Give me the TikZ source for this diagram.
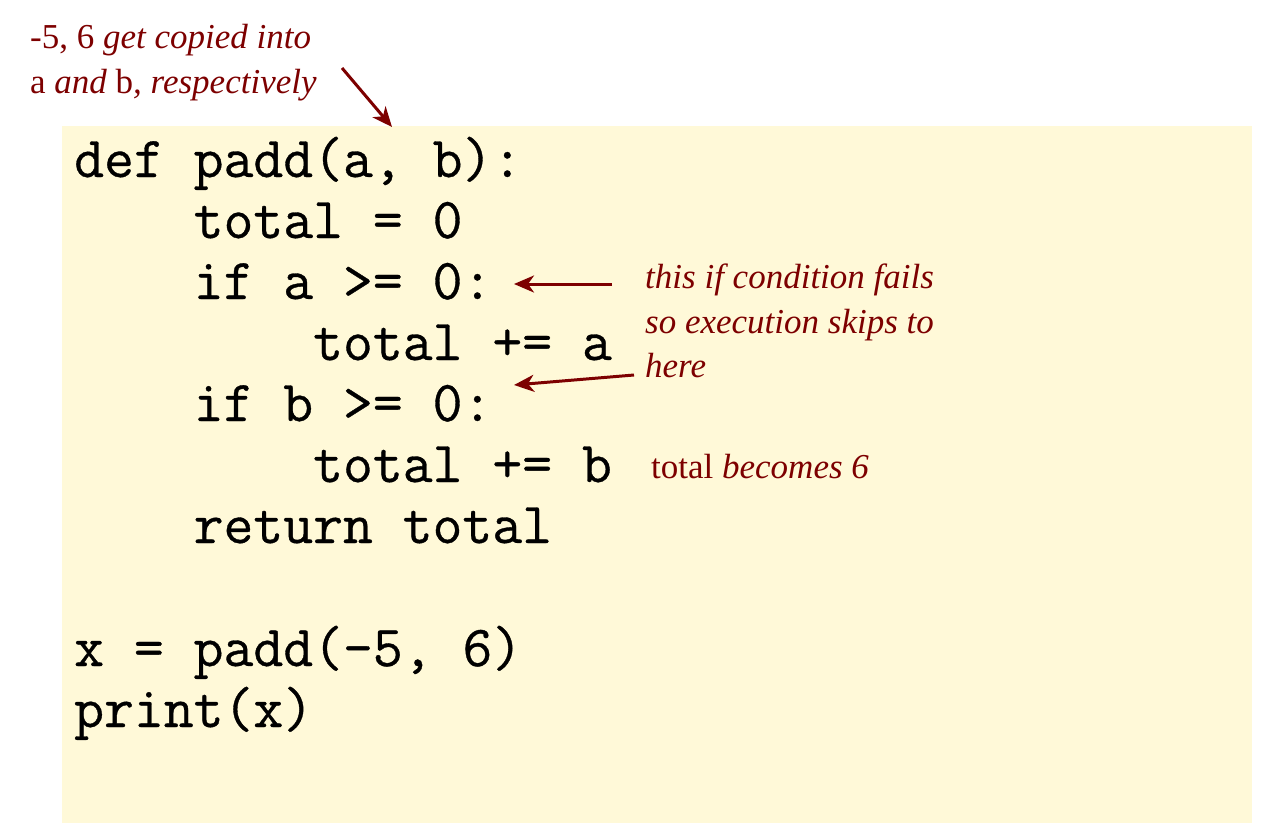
\documentclass[tikz,border=0pt]{standalone}
\usepackage{fontspec}
\setmainfont{Liberation Serif}
\setmonofont{Latin Modern Mono}[FakeBold=0.6]
\usetikzlibrary{arrows.meta}
\definecolor{bgyellow}{RGB}{255,249,216}
\definecolor{annred}{RGB}{125,0,0}
\begin{document}
\begin{tikzpicture}[x=1pt,y=-1pt,
  code/.style={anchor=base west,inner sep=0pt,font=\fontsize{58}{61}\selectfont\ttfamily},
  ann/.style={anchor=base west,inner sep=0pt,text=annred,font=\fontsize{35}{45}\selectfont\itshape},
  annarrow/.style={draw=annred,line width=3pt,-{Stealth[length=20pt,width=17pt,inset=6pt]}}]
\useasboundingbox (0,0) rectangle (1268,839);
\fill[bgyellow] (62,126) rectangle (1252,823);
\node[code] (l1) at (74,177) {def padd(a, b):};
\node[code] (l2) at (74,238) {\ \ \ \ total = 0};
\node[code] (l3) at (74,299) {\ \ \ \ if a >= 0:};
\node[code] (l4) at (74,360) {\ \ \ \ \ \ \ \ total += a};
\node[code] (l5) at (74,421) {\ \ \ \ if b >= 0:};
\node[code] (l6) at (74,482) {\ \ \ \ \ \ \ \ total += b};
\node[code] (l7) at (74,543) {\ \ \ \ return total};
\node[code] (l9) at (74,666) {x = padd(-5, 6)};
\node[code] (l10) at (74,727) {print(x)};
\node[ann] (t1) at (30,48) {\upshape -5, 6\itshape{} get copied into};
\node[ann] (t2) at (30,93) {\upshape a\itshape{} and \upshape b\itshape, respectively};
\node[ann] (c1) at (645,288) {this if condition fails};
\node[ann] (c2) at (645,333) {so execution skips to};
\node[ann] (c3) at (645,377) {here};
\node[ann] (r1) at (651,478) {\upshape total\itshape{} becomes 6};
\coordinate (a1s) at (342,68);
\coordinate (a1e) at (392,127);
\coordinate (a2s) at (612,284);
\coordinate (a2e) at (514,284);
\coordinate (a3s) at (634,375);
\coordinate (a3e) at (514,385);
\draw[annarrow] (a1s) -- (a1e);
\draw[annarrow] (a2s) -- (a2e);
\draw[annarrow] (a3s) -- (a3e);
\end{tikzpicture}
\end{document}
